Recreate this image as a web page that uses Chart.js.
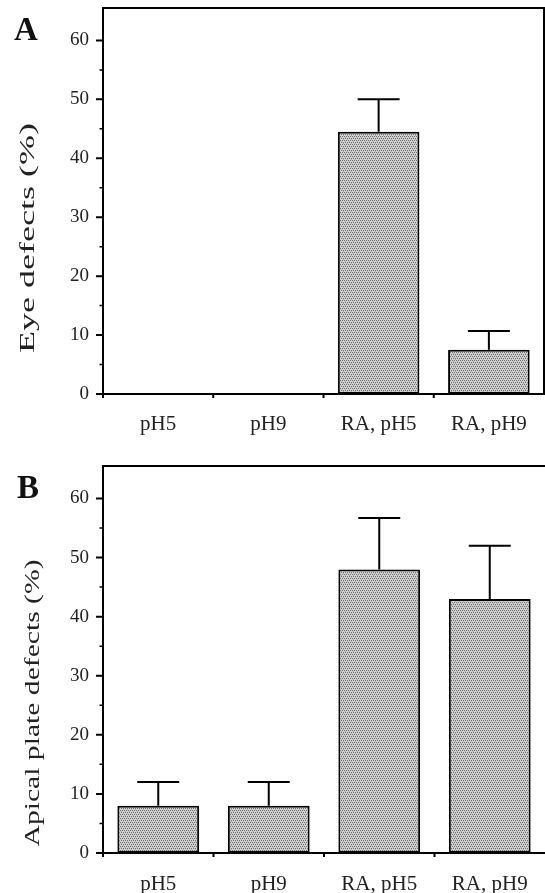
<!DOCTYPE html>
<html><head><meta charset="utf-8">
<script src="https://cdn.jsdelivr.net/npm/chart.js@4/dist/chart.umd.min.js"></script>
<style>
html,body{margin:0;padding:0;background:#fff;}
body{width:545px;height:893px;position:relative;overflow:hidden;}
.panel{position:absolute;left:0;width:545px;}
#pa{top:0;height:450px;}
#pb{top:450px;height:443px;}
</style></head><body>
<div class="panel" id="pa"><canvas id="ca"></canvas></div>
<div class="panel" id="pb"><canvas id="cb"></canvas></div>
<script>
// ---- data ----
const categories = ['pH5', 'pH9', 'RA, pH5', 'RA, pH9'];
const eyeDefects = [0, 0, 44.5, 7.5];
const eyeDefectsErr = [0, 0, 5.5, 3.2];
const apicalDefects = [8, 8, 48, 43];
const apicalDefectsErr = [4, 4, 8.7, 9];
const yMajorTicks = [0, 10, 20, 30, 40, 50, 60];
const yMinorTicks = [5, 15, 25, 35, 45, 55];
const yMax = 65.5;
const panelLetters = ['A', 'B'];
const yTitles = ['Eye defects (%)', 'Apical plate defects (%)'];

const SERIF = '"Liberation Serif", "Times New Roman", serif';

function makePattern() {
  const c = document.createElement('canvas');
  c.width = 4; c.height = 4;
  const x = c.getContext('2d');
  x.fillStyle = '#d2d2d2'; x.fillRect(0, 0, 4, 4);
  x.fillStyle = '#717171';
  [[0, 0], [2, 0], [1, 2], [3, 2]].forEach(p => x.fillRect(p[0], p[1], 1, 1));
  x.fillStyle = '#aaaaaa';
  [[1, 1], [3, 3]].forEach(p => x.fillRect(p[0], p[1], 1, 1));
  return x.createPattern(c, 'repeat');
}
const pattern = makePattern();

const decorPlugin = {
  id: 'decor',
  afterDatasetsDraw(chart) {
    const o = chart.options.plugins.decor;
    const ctx = chart.ctx;
    const ys = chart.scales.y;
    const meta = chart.getDatasetMeta(0);
    const vals = chart.data.datasets[0].data;
    ctx.save();
    ctx.strokeStyle = '#000';
    ctx.lineWidth = 2;
    o.errors.forEach((e, i) => {
      if (!e) return;
      const x = meta.data[i].x;
      const yb = ys.getPixelForValue(vals[i]);
      const yt = ys.getPixelForValue(vals[i] + e);
      ctx.beginPath();
      ctx.moveTo(x, yb); ctx.lineTo(x, yt);
      ctx.moveTo(x - o.capHalf, yt); ctx.lineTo(x + o.capHalf, yt);
      ctx.stroke();
    });
    ctx.restore();
  },
  afterDraw(chart) {
    const o = chart.options.plugins.decor;
    const ctx = chart.ctx;
    const ys = chart.scales.y, xs = chart.scales.x;
    const a = chart.chartArea;
    ctx.save();
    ctx.strokeStyle = '#000';
    ctx.lineWidth = 2;
    ctx.beginPath();
    yMajorTicks.forEach(v => { const y = ys.getPixelForValue(v); ctx.moveTo(a.left - 7, y); ctx.lineTo(a.left, y); });
    ctx.stroke();
    ctx.lineWidth = 1.5;
    ctx.beginPath();
    yMinorTicks.forEach(v => { const y = ys.getPixelForValue(v); ctx.moveTo(a.left - 3.5, y); ctx.lineTo(a.left, y); });
    ctx.stroke();
    ctx.lineWidth = 2;
    ctx.beginPath();
    const half = (xs.getPixelForValue(1) - xs.getPixelForValue(0)) / 2;
    categories.forEach((c, i) => { const x = xs.getPixelForValue(i) - half; ctx.moveTo(x, a.bottom); ctx.lineTo(x, a.bottom + 4); });
    ctx.stroke();
    ctx.beginPath();
    ctx.moveTo(a.left - 1, a.top); ctx.lineTo(a.right + 1, a.top);
    if (o.rightBorder) { ctx.moveTo(a.right, a.top); ctx.lineTo(a.right, a.bottom); }
    ctx.stroke();
    ctx.fillStyle = '#111';
    ctx.font = 'bold 33px ' + SERIF;
    ctx.textAlign = 'left'; ctx.textBaseline = 'alphabetic';
    ctx.fillText(o.letter, o.letterX, o.letterY);
    ctx.font = '22px ' + SERIF;
    const w = ctx.measureText(o.title).width;
    ctx.translate(o.titleX, o.titleY);
    ctx.rotate(-Math.PI / 2);
    ctx.scale(o.titleLen / w, 1);
    ctx.textAlign = 'center'; ctx.textBaseline = 'middle';
    ctx.fillStyle = '#222';
    ctx.fillText(o.title, 0, 0);
    ctx.restore();
  }
};

function makeChart(id, values, errors, opts) {
  return new Chart(document.getElementById(id), {
    type: 'bar',
    data: {
      labels: categories,
      datasets: [{
        data: values,
        backgroundColor: pattern,
        borderColor: '#000',
        borderWidth: 2,
        borderSkipped: false,
        barPercentage: 0.74,
        categoryPercentage: 1
      }]
    },
    options: {
      responsive: true,
      maintainAspectRatio: false,
      devicePixelRatio: 1,
      animation: false,
      events: [],
      layout: { padding: { top: opts.padTop, right: opts.padRight, left: 0, bottom: 0 } },
      plugins: {
        legend: { display: false },
        tooltip: { enabled: false },
        decor: {
          errors: errors, capHalf: 21, rightBorder: opts.rightBorder,
          letter: opts.letter, letterX: opts.letterX, letterY: opts.letterY,
          title: opts.title, titleX: opts.titleX, titleY: opts.titleY, titleLen: opts.titleLen
        }
      },
      scales: {
        x: {
          grid: { display: false },
          border: { display: true, color: '#000', width: 2 },
          ticks: { color: '#222', font: { family: SERIF, size: 21 }, padding: opts.xPad, maxRotation: 0, autoSkip: false },
          afterFit: s => { s.height = opts.xHeight; s.paddingLeft = 0; s.paddingRight = 0; }
        },
        y: {
          min: 0, max: yMax,
          grid: { display: false, drawTicks: false },
          border: { display: true, color: '#000', width: 2 },
          ticks: { stepSize: 10, includeBounds: false, color: '#222', font: { family: SERIF, size: 19 }, padding: 14 },
          afterFit: s => { s.width = 103; s.paddingTop = 0; s.paddingBottom = 0; }
        }
      }
    },
    plugins: [decorPlugin]
  });
}

makeChart('ca', eyeDefects, eyeDefectsErr, {
  padTop: 8, padRight: 1, rightBorder: true, xHeight: 56, xPad: 10,
  letter: panelLetters[0], letterX: 14, letterY: 40,
  title: yTitles[0], titleX: 28, titleY: 238, titleLen: 230
});
makeChart('cb', apicalDefects, apicalDefectsErr, {
  padTop: 16, padRight: 0, rightBorder: false, xHeight: 40, xPad: 11,
  letter: panelLetters[1], letterX: 17, letterY: 48,
  title: yTitles[1], titleX: 33, titleY: 253, titleLen: 287
});
</script>
</body></html>
